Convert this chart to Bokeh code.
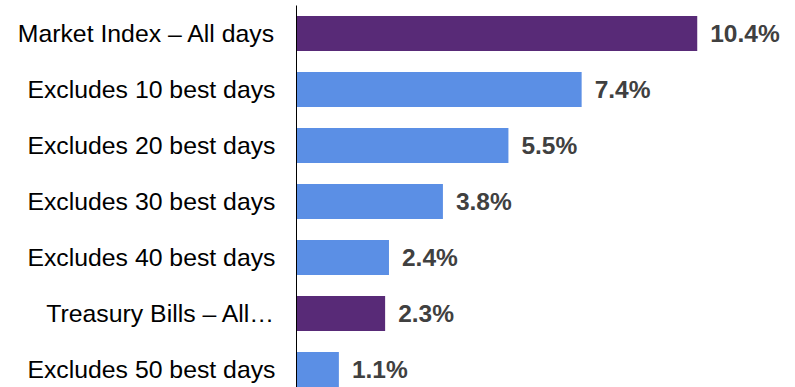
from bokeh.plotting import figure
from bokeh.models import ColumnDataSource, Range1d, FixedTicker
from bokeh.transform import factor_cmap
from bokeh.core.properties import value
from bokeh.embed import file_html
from bokeh.resources import INLINE

# ---- data (top to bottom) ----
categories = [
    "Market Index – All days",
    "Excludes 10 best days",
    "Excludes 20 best days",
    "Excludes 30 best days",
    "Excludes 40 best days",
    "Treasury Bills – All…",
    "Excludes 50 best days",
]
returns = [10.4, 7.4, 5.5, 3.8, 2.4, 2.3, 1.1]
groups = ["all", "excl", "excl", "excl", "excl", "all", "excl"]
value_labels = [f"{v:.1f}%" for v in returns]

n = len(categories)
ypos = [n - 0.5 - i for i in range(n)]

src = ColumnDataSource(dict(cat=categories, val=returns, grp=groups,
                            lab=value_labels, y=ypos))

p = figure(width=795, height=387, output_backend="svg", toolbar_location=None,
           x_range=Range1d(0, 12.95), y_range=Range1d(0.179, n),
           x_axis_location=None, min_border_left=296, min_border_right=0,
           min_border_top=5, min_border_bottom=0, outline_line_color=None,
           background_fill_color="white", border_fill_color="white")

p.hbar(y="y", right="val", left=0, height=0.625, source=src, line_color=None,
       fill_color=factor_cmap("grp", palette=["#582A77", "#5B8FE5"],
                              factors=["all", "excl"]))

p.text(x="val", y="y", text="lab", source=src, x_offset=13,
       text_baseline="middle", text_align="left",
       text_font=value("Liberation Sans"), text_font_style="bold",
       text_font_size="24.5px", text_color="#404040")

ax = p.yaxis[0]
ax.ticker = FixedTicker(ticks=ypos)
ax.major_label_overrides = {y: c for y, c in zip(ypos, categories)}
ax.major_tick_line_color = None
ax.minor_tick_line_color = None
ax.axis_line_color = "black"
ax.axis_line_width = 1
ax.major_label_standoff = 15
ax.major_label_text_font = "Liberation Sans"
ax.major_label_text_font_size = "24.8px"
ax.major_label_text_color = "#000000"

p.xgrid.visible = False
p.ygrid.visible = False

open("out.html", "w").write(file_html(p, INLINE))
